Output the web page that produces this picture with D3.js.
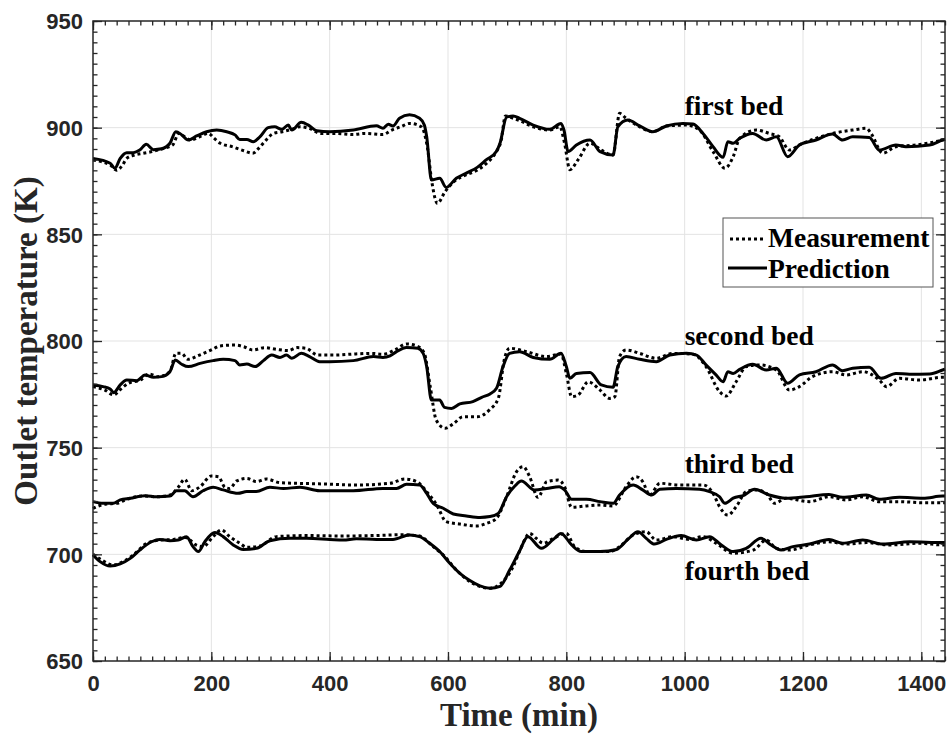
<!DOCTYPE html>
<html>
<head>
<meta charset="utf-8">
<script src="https://cdn.jsdelivr.net/npm/d3@7"></script>
<style>
  html, body { margin: 0; padding: 0; background: #fff; }
  svg { display: block; }
</style>
</head>
<body>
<svg id="chart" width="951" height="736"></svg>
<script>
// Outlet temperature of the four reactor beds: [time (min), temperature (K)]
const firstBedMeasured = [[0,884.8],[29,882.5],[40,880],[50,882.5],[57,885.6],[70,887.2],[85,888],[100,888.8],[120,890.3],[135,892],[145,897.3],[155,895.7],[165,894.2],[180,895.7],[195,897.3],[205,895],[215,892.7],[235,891.1],[255,889.2],[270,888],[280,890.3],[290,893.4],[305,897.3],[320,898.1],[335,899.2],[350,900.4],[365,899.7],[385,897.3],[410,897.3],[440,896.8],[460,897.3],[490,896.8],[505,898.9],[520,900.4],[535,902],[555,900.4],[565,891],[573,874],[582,864.5],[595,870],[610,874.7],[630,877.8],[650,880.2],[665,883.3],[680,888],[690,894.2],[697,905.5],[710,904.4],[721,903.3],[744,900.4],[772,898.9],[789,900.4],[797,892.7],[806,880.3],[820,885],[840,892.7],[859,889.5],[879,887.2],[890,906.7],[901,904.4],[924,900.4],[946,898.1],[969,900.8],[1003,901.2],[1025,898.9],[1048,888.8],[1068,881],[1082,886.4],[1093,895],[1121,898.9],[1143,897.3],[1160,895.7],[1177,889.5],[1194,891.9],[1222,895],[1250,897.3],[1284,898.9],[1307,899.7],[1315,897.3],[1335,888],[1357,891.1],[1391,891.9],[1436,894.2],[1440,894.5]];
const firstBedPredicted = [[0,885.6],[29,883.3],[37,881],[46,885.6],[57,888.3],[68,888.3],[79,889.5],[90,892.2],[102,889.7],[116,890.1],[130,892.7],[140,898.1],[150,896.6],[161,894.2],[175,896.1],[192,898.1],[209,898.9],[226,898.1],[240,896.6],[248,894.5],[260,894.5],[271,893.4],[282,895.7],[296,900],[307,900.4],[319,899.2],[330,901.2],[336,898.9],[352,902.5],[364,901.2],[378,898.6],[400,898.1],[440,898.9],[479,900.9],[490,899.7],[499,901.6],[507,900.8],[518,904.4],[535,906],[552,904.4],[560,901.2],[564,895.7],[572,875.5],[586,876.3],[597,872],[614,876.3],[631,878.7],[650,881.5],[665,885],[682,888.9],[688,892.8],[699,904.9],[710,905.5],[721,904.4],[744,901.2],[772,899.2],[791,902],[796,898.9],[803,888.8],[817,891.9],[840,894.2],[857,888.8],[879,887.2],[887,900.4],[904,903.6],[924,900.8],[946,898.1],[969,900.8],[997,902],[1014,901.7],[1031,897.3],[1048,891.1],[1065,886.1],[1073,893.4],[1082,892.7],[1093,895],[1115,897.3],[1138,894.2],[1155,895.7],[1174,886.4],[1194,891.9],[1222,894.2],[1250,897],[1267,894.2],[1284,895.7],[1312,895.4],[1329,889.5],[1357,891.9],[1374,891.1],[1414,891.9],[1436,894.2],[1440,894.5]];

const secondBedMeasured = [[0,778.6],[20,777],[35,774.7],[45,777],[60,780.2],[80,781.7],[95,784.5],[110,783.3],[130,785.6],[140,794.2],[150,794.2],[160,791.4],[180,793.4],[200,795.8],[215,797.7],[240,798.1],[255,797.3],[270,795.8],[290,796.9],[310,796.1],[330,795.5],[345,796.9],[360,796.6],[380,793.4],[410,793.4],[440,793.9],[470,794.2],[490,793.8],[510,795.8],[530,798.6],[550,797.3],[560,794.2],[570,778.6],[580,763],[595,759.1],[610,761.4],[625,764.5],[650,764.5],[670,767.7],[685,773.1],[695,791.1],[704,796.6],[733,795],[766,792.7],[791,793.9],[800,784.8],[809,773.9],[820,774.7],[837,780.9],[857,777],[873,773.1],[882,773.9],[890,792.7],[901,795.8],[924,794.2],[952,791.9],[980,794.2],[1014,793.8],[1036,788],[1059,776.3],[1070,774.2],[1087,780.9],[1104,788],[1126,788.8],[1155,786.4],[1177,777],[1194,778.6],[1216,783.3],[1250,785.6],[1273,784.1],[1301,785.6],[1329,781.7],[1341,778.6],[1363,782.5],[1397,781.7],[1436,783],[1440,783]];
const secondBedPredicted = [[0,779.4],[17,778.6],[29,777.5],[35,775.8],[46,779.4],[57,781.7],[74,781.4],[88,784.1],[102,783],[116,783.3],[130,785.6],[139,791.1],[150,789.1],[161,788],[181,789.5],[203,790.8],[220,791.4],[240,790.8],[248,788.8],[260,789.2],[274,788],[288,790.8],[302,793.4],[316,792.3],[327,793.4],[336,791.9],[352,794.2],[366,792.7],[383,790.3],[400,790.3],[440,790.8],[474,792.7],[490,792.3],[502,793],[513,795],[530,797],[549,796.6],[558,794.2],[564,788],[572,772.3],[586,772.3],[594,768.9],[606,768.4],[620,770.5],[642,771.6],[657,773.6],[671,775.2],[682,777.8],[693,788],[704,794.2],[721,795],[744,792.3],[772,791.4],[791,794.2],[800,788],[806,782.5],[817,784.8],[840,785.2],[859,779.4],[879,778.3],[887,788],[901,792.7],[924,791.4],[952,790.3],[975,793.4],[1003,794.2],[1020,793.4],[1036,788.8],[1053,784.1],[1065,780.9],[1073,785.6],[1082,784.8],[1093,786.7],[1115,789.1],[1138,786.4],[1155,787.2],[1174,780.2],[1194,784.1],[1222,785.6],[1250,788.8],[1267,786.1],[1284,787.2],[1312,787.7],[1332,782.5],[1357,784.8],[1380,784.4],[1414,784.5],[1436,786.4],[1440,786.8]];

const thirdBedMeasured = [[0,721.5],[6,722.3],[23,723.6],[40,723.9],[57,725.8],[85,727.3],[108,727],[130,727.8],[144,731.4],[155,735.2],[167,729.8],[181,731.7],[200,736.7],[212,736.4],[223,731.4],[231,730.9],[243,734.4],[260,735.6],[276,734.1],[293,735.3],[316,733.6],[344,733.3],[389,733],[445,732.5],[502,733.3],[527,735.3],[547,734.1],[564,729.4],[581,723.1],[597,715.3],[620,714.2],[648,713.3],[665,714.5],[682,716.9],[699,727],[716,738.8],[727,741.1],[738,736.4],[752,726.7],[767,734.1],[786,734.8],[797,731.7],[809,722],[834,722.7],[857,723.1],[879,722.7],[901,731.7],[918,736.4],[929,734.1],[941,727.8],[958,733.3],[991,732.5],[1031,732.5],[1048,728.6],[1059,722.3],[1073,718.4],[1087,722.3],[1104,729.4],[1121,730.2],[1138,728.6],[1152,723.9],[1171,726.3],[1211,724.7],[1244,727],[1273,725.5],[1301,727],[1329,724.7],[1363,724.7],[1403,724.2],[1436,724.2],[1440,724.2]];
const thirdBedPredicted = [[0,724.7],[17,723.9],[34,723.9],[46,725.5],[63,726.3],[88,727.5],[108,727],[130,727.3],[141,729.8],[155,729.8],[169,727],[186,729.8],[203,731.4],[220,730.2],[245,728.6],[260,729.4],[276,729.4],[299,731.4],[322,730.9],[350,731.4],[383,729.8],[440,729.8],[490,730.9],[513,730.9],[530,732.8],[552,732.5],[564,728.6],[575,723.9],[592,721.6],[609,718.9],[631,718],[654,717.3],[671,717.7],[685,719.2],[699,727],[713,732],[724,734.4],[746,730.2],[767,730.9],[788,731.7],[797,730.2],[809,725.8],[834,725.8],[857,724.7],[879,723.9],[890,727.8],[913,732.5],[929,730.2],[944,727.8],[958,730.5],[986,730.9],[1025,730.5],[1042,729.4],[1059,727],[1068,723.9],[1082,726.3],[1101,727.8],[1118,730.5],[1143,727.8],[1171,726.3],[1205,727],[1244,728.1],[1267,726.7],[1307,727.8],[1329,725.8],[1363,726.7],[1403,726.3],[1436,727.3],[1440,727.3]];

const fourthBedMeasured = [[0,700],[15,697.3],[34,695],[51,696.6],[68,699.7],[91,705.2],[113,706.7],[136,707],[155,708],[164,706.7],[174,704.4],[186,703.6],[203,708.3],[217,711.4],[231,708.3],[248,705.2],[260,703.3],[282,703.9],[310,708.3],[361,708.8],[417,708.6],[474,708.8],[524,709.2],[552,708.6],[575,703.6],[592,699.7],[614,692.7],[642,686.4],[671,684.1],[690,686.5],[710,694.2],[723,702.8],[738,709.8],[749,707.5],[761,705.2],[778,707.5],[800,709.8],[814,703.6],[834,701.3],[874,701.3],[890,703.6],[913,709.1],[935,710.6],[952,706.7],[980,708.3],[1008,707],[1031,708.3],[1053,705.2],[1082,700.5],[1116,702],[1138,706.7],[1155,702.8],[1177,702],[1211,704.4],[1244,705.9],[1273,704.8],[1307,705.5],[1346,704.4],[1397,705.2],[1436,704.4],[1440,704.4]];
const fourthBedPredicted = [[0,699.7],[12,696.6],[29,694.5],[46,695.5],[63,698.1],[79,702],[99,705.9],[113,707],[130,706.4],[144,706.7],[158,708.3],[169,703.6],[178,701.3],[189,705.9],[206,710.2],[220,708.3],[237,704.4],[254,702.3],[276,702.8],[299,706.4],[333,707.5],[361,707.5],[400,707],[423,706.7],[445,707.3],[479,707],[507,707],[535,709.1],[552,708.3],[569,705.2],[586,701.3],[603,695.8],[620,691.1],[637,687.7],[654,685.2],[671,684.1],[688,685],[704,692.5],[720,701],[735,708.3],[758,702.8],[778,707],[791,709.8],[809,704.4],[825,701.3],[857,701.3],[885,702.3],[904,707],[921,710.6],[935,707.5],[949,704.8],[969,707],[994,708.8],[1020,706.7],[1042,708.3],[1062,704.4],[1082,701.3],[1104,702.8],[1129,707.5],[1146,704.4],[1163,702],[1183,703.6],[1211,704.8],[1244,707],[1267,705.2],[1301,706.7],[1335,704.8],[1380,705.9],[1436,705.5],[1440,705.5]];

// Axis ticks and labels
const xTicks = [0, 200, 400, 600, 800, 1000, 1200, 1400];
const yTicks = [650, 700, 750, 800, 850, 900, 950];
const bedNames = ["first bed", "second bed", "third bed", "fourth bed"];
const bedLabelAnchors = [[1000, 906], [1000, 798], [1000, 738], [1000, 688]];
const legendNames = ["Measurement", "Prediction"];

const svg = d3.select("#chart");
const plotLeft = 93, plotRight = 945, plotTop = 21, plotBottom = 661;

const x = d3.scaleLinear().domain([0, 1440]).range([plotLeft, plotRight]);
const y = d3.scaleLinear().domain([650, 950]).range([plotBottom, plotTop]);

const axisColor = "#262626";
const tickFont = "'Liberation Sans', Arial, sans-serif";
const serif = "'Liberation Serif', 'Times New Roman', serif";

// grid
const grid = svg.append("g");
grid.selectAll("line.gx").data(xTicks.filter(d => d > 0)).join("line")
  .attr("x1", d => x(d)).attr("x2", d => x(d))
  .attr("y1", plotTop).attr("y2", plotBottom)
  .attr("stroke", "#e3e3e3").attr("stroke-width", 1);
grid.selectAll("line.gy").data(yTicks.filter(d => d > 650 && d < 950)).join("line")
  .attr("x1", plotLeft).attr("x2", plotRight)
  .attr("y1", d => y(d)).attr("y2", d => y(d))
  .attr("stroke", "#e3e3e3").attr("stroke-width", 1);

// series
const line = d3.line()
  .x(d => x(d[0]))
  .y(d => y(d[1]))
  .curve(d3.curveMonotoneX);

const measured = [firstBedMeasured, secondBedMeasured, thirdBedMeasured, fourthBedMeasured];
const predicted = [firstBedPredicted, secondBedPredicted, thirdBedPredicted, fourthBedPredicted];

const plot = svg.append("g");
measured.forEach(s => {
  plot.append("path").datum(s).attr("d", line)
    .attr("fill", "none").attr("stroke", "#000")
    .attr("stroke-width", 3).attr("stroke-dasharray", "3,3");
});
predicted.forEach(s => {
  plot.append("path").datum(s).attr("d", line)
    .attr("fill", "none").attr("stroke", "#000")
    .attr("stroke-width", 3).attr("stroke-linejoin", "round");
});

// axes with inward ticks on all four sides
function drawAxis(axisFn, scale, values, size, transform, labels) {
  const a = axisFn(scale).tickValues(values).tickSizeInner(size).tickSizeOuter(0)
    .tickFormat(labels ? d3.format("d") : "");
  const g = svg.append("g").attr("transform", transform).call(a);
  g.select(".domain").remove();
  g.selectAll(".tick line").attr("stroke", axisColor).attr("stroke-width", 1.3);
  return g;
}
const xMinor = d3.range(0, 1441, 20);
const yMinor = d3.range(650, 951, 5);

const xb = drawAxis(d3.axisBottom, x, xTicks, -9, `translate(0,${plotBottom})`, true);
drawAxis(d3.axisBottom, x, xMinor, -4.5, `translate(0,${plotBottom})`, false);
drawAxis(d3.axisTop, x, xTicks, -9, `translate(0,${plotTop})`, false);
drawAxis(d3.axisTop, x, xMinor, -4.5, `translate(0,${plotTop})`, false);
const yl = drawAxis(d3.axisLeft, y, yTicks, -9, `translate(${plotLeft},0)`, true);
drawAxis(d3.axisLeft, y, yMinor, -4.5, `translate(${plotLeft},0)`, false);
drawAxis(d3.axisRight, y, yTicks, -9, `translate(${plotRight},0)`, false);
drawAxis(d3.axisRight, y, yMinor, -4.5, `translate(${plotRight},0)`, false);

xb.selectAll(".tick text")
  .attr("y", 14).attr("dy", "0.71em")
  .style("font-family", tickFont).style("font-weight", "bold")
  .style("font-size", "22px").attr("fill", axisColor);
yl.selectAll(".tick text")
  .attr("x", -10).attr("dy", "0.35em")
  .style("font-family", tickFont).style("font-weight", "bold")
  .style("font-size", "22px").attr("fill", axisColor);

// frame
svg.append("rect").attr("x", plotLeft).attr("y", plotTop)
  .attr("width", plotRight - plotLeft).attr("height", plotBottom - plotTop)
  .attr("fill", "none").attr("stroke", axisColor).attr("stroke-width", 1.5);

// axis titles
svg.append("text").attr("x", (plotLeft + plotRight) / 2).attr("y", 726)
  .attr("text-anchor", "middle")
  .style("font-family", serif).style("font-weight", "bold").style("font-size", "33px")
  .attr("fill", axisColor).text("Time (min)");
svg.append("text")
  .attr("transform", `translate(37,${(plotTop + plotBottom) / 2}) rotate(-90)`)
  .attr("text-anchor", "middle")
  .style("font-family", serif).style("font-weight", "bold").style("font-size", "33px")
  .attr("fill", axisColor).text("Outlet temperature (K)");

// bed labels
svg.selectAll("text.bed").data(bedNames).join("text")
  .attr("class", "bed")
  .attr("x", (d, i) => x(bedLabelAnchors[i][0]))
  .attr("y", (d, i) => y(bedLabelAnchors[i][1]))
  .style("font-family", serif).style("font-weight", "bold").style("font-size", "27.5px")
  .attr("fill", "#000").text(d => d);

// legend
const lg = svg.append("g").attr("transform", "translate(723,218)");
lg.append("rect").attr("width", 210).attr("height", 69)
  .attr("fill", "#fff").attr("stroke", "#555").attr("stroke-width", 1);
lg.append("line").attr("x1", 7).attr("x2", 40).attr("y1", 21).attr("y2", 21)
  .attr("stroke", "#000").attr("stroke-width", 3).attr("stroke-dasharray", "3,3");
lg.append("line").attr("x1", 5).attr("x2", 44).attr("y1", 50).attr("y2", 50)
  .attr("stroke", "#000").attr("stroke-width", 3);
lg.selectAll("text").data(legendNames).join("text")
  .attr("x", 45).attr("y", (d, i) => 29 + i * 31)
  .style("font-family", serif).style("font-weight", "bold").style("font-size", "27.5px")
  .attr("fill", "#000").text(d => d);
</script>
</body>
</html>
